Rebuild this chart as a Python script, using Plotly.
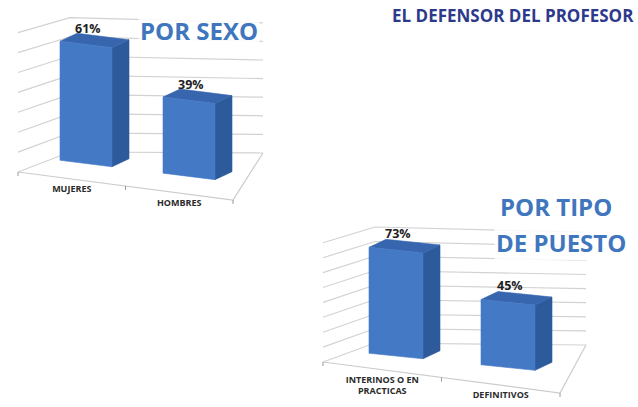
import plotly.graph_objects as go

# ---------------- data ----------------
sexo_categorias = ["MUJERES", "HOMBRES"]
sexo_valores = [61, 39]
sexo_etiquetas = ["61%", "39%"]
sexo_grid = [0, 10, 20, 30, 40, 50, 60, 70]

puesto_categorias = ["INTERINOS O EN<br>PRACTICAS", "DEFINITIVOS"]
puesto_valores = [73, 45]
puesto_etiquetas = ["73%", "45%"]
puesto_grid = [0, 10, 20, 30, 40, 50, 60, 70, 80]

# ---------------- panel geometry (3D-looking projection, in canvas pixels) ----------------
W, H = 638, 407
panel_sexo = dict(x0=86, du=103, hw=26, y0=163.5, slope=0.125, k=1.95, dx=17, dy=-8,
                  FL=(18, 172, 1.99), FR=(233, 200), BR=(263, 153, 1.86), BL=(70, 152, 1.92))
panel_puesto = dict(x0=396, du=112, hw=27, y0=356, slope=0.103, k=1.45, dx=17, dy=-8,
                    FL=(323, 362, 1.49), FR=(560, 393), BR=(586, 345, 1.41), BL=(375, 343, 1.45))

FRONT, SIDE, TOP = "#4479c6", "#2c5a9a", "#3766ae"
GRID = "#d2d2d2"

fig = go.Figure()


def pt(p, x, h, d):
    X = x + p["dx"] * d
    Y = p["y0"] + p["slope"] * (x - p["x0"]) - p["k"] * h + p["dy"] * d
    return X, Y


def poly(points, color):
    xs = [q[0] for q in points] + [points[0][0]]
    ys = [q[1] for q in points] + [points[0][1]]
    fig.add_trace(go.Scatter(x=xs, y=ys, mode="lines", fill="toself", fillcolor=color,
                             line=dict(color=color, width=0.6), hoverinfo="skip"))


def line(xs, ys, color=GRID, width=1.2):
    fig.add_trace(go.Scatter(x=xs, y=ys, mode="lines", line=dict(color=color, width=width),
                             hoverinfo="skip"))


def draw_panel(p, cats, vals, labels, grid):
    FL, FR, BR, BL = p["FL"], p["FR"], p["BR"], p["BL"]
    # walls gridlines
    for h in grid:
        line([FL[0], BL[0], BR[0]],
             [FL[1] - FL[2] * h, BL[1] - BL[2] * h, BR[1] - BR[2] * h])
    # floor outline
    line([FL[0], FR[0], BR[0]], [FL[1], FR[1], BR[1]], color="#cccccc")
    # ticks on the floor front edge
    n = len(cats)
    for j in range(n + 1):
        t = j / n
        tx = FL[0] + t * (FR[0] - FL[0])
        ty = FL[1] + t * (FR[1] - FL[1])
        line([tx, tx], [ty, ty + 4], color="#9a9a9a", width=1)
    # bars
    for i, v in enumerate(vals):
        xc = p["x0"] + i * p["du"]
        xl, xr = xc - p["hw"], xc + p["hw"]
        poly([pt(p, xr, 0, 0), pt(p, xr, 0, 1), pt(p, xr, v, 1), pt(p, xr, v, 0)], SIDE)
        poly([pt(p, xl, v, 0), pt(p, xr, v, 0), pt(p, xr, v, 1), pt(p, xl, v, 1)], TOP)
        poly([pt(p, xl, 0, 0), pt(p, xr, 0, 0), pt(p, xr, v, 0), pt(p, xl, v, 0)], FRONT)
        lx, ly = pt(p, xc + 2, v, 0)
        fig.add_annotation(x=lx, y=ly - 6, text="<b>%s</b>" % labels[i], showarrow=False,
                           xref="x", yref="y", xanchor="center", yanchor="bottom",
                           font=dict(family="Open Sans", size=12.5, color="#1e1e1e"))
    # category labels along the floor front edge
    lxs, lys = [], []
    for i in range(n):
        t = (i + 0.5) / n
        lxs.append(FL[0] + t * (FR[0] - FL[0]))
        lys.append(FL[1] + t * (FR[1] - FL[1]) + 6)
    fig.add_trace(go.Scatter(x=lxs, y=lys, mode="text", text=["<b>%s</b>" % c for c in cats],
                             textposition="bottom center", hoverinfo="skip",
                             textfont=dict(family="Open Sans", size=9, color="#2a2a2a")))


draw_panel(panel_sexo, sexo_categorias, sexo_valores, sexo_etiquetas, sexo_grid)
draw_panel(panel_puesto, puesto_categorias, puesto_valores, puesto_etiquetas, puesto_grid)

# titles
fig.add_annotation(x=636, y=15, text="<b>EL DEFENSOR DEL PROFESOR</b>", showarrow=False,
                   xref="x", yref="y", xanchor="right",
                   font=dict(family="Open Sans", size=17, color="#2d3a8c"))
title_font = dict(family="Open Sans", size=24, color="#3f76bd")
fig.add_annotation(x=199, y=30, text="<b>POR SEXO</b>", showarrow=False, xref="x", yref="y",
                   font=title_font, bgcolor="rgba(255,255,255,0.85)")
fig.add_annotation(x=556, y=206, text="<b>POR TIPO</b>", showarrow=False, xref="x", yref="y",
                   font=title_font, bgcolor="rgba(255,255,255,0.85)")
fig.add_annotation(x=561, y=242, text="<b>DE PUESTO</b>", showarrow=False, xref="x", yref="y",
                   font=title_font, bgcolor="rgba(255,255,255,0.85)")

fig.update_layout(
    width=W, height=H, margin=dict(l=0, r=0, t=0, b=0),
    paper_bgcolor="white", plot_bgcolor="white", showlegend=False,
    xaxis=dict(range=[0, W], visible=False, fixedrange=True),
    yaxis=dict(range=[H, 0], visible=False, fixedrange=True),
)
fig.write_html("out.html", config={"displayModeBar": False},
               post_script="document.body.style.margin='0';document.body.style.overflow='hidden';")
